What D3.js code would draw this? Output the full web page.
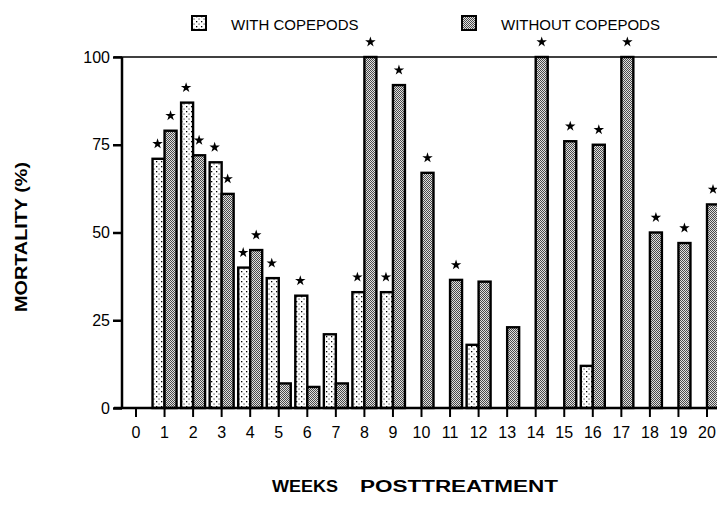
<!DOCTYPE html>
<html>
<head>
<meta charset="utf-8">
<script src="https://cdn.jsdelivr.net/npm/d3@7/dist/d3.min.js"></script>
<style>
  html, body { margin: 0; padding: 0; background: #fff; }
  svg { display: block; }
  text { font-family: "Liberation Sans", Arial, Helvetica, sans-serif; fill: #000; }
</style>
</head>
<body>
<svg id="chart" width="717" height="519"></svg>
<script>
// ---- data ----
const weeks = [0,1,2,3,4,5,6,7,8,9,10,11,12,13,14,15,16,17,18,19,20];
const withCopepods    = [null,71,87,70,40,37,32,21,33,33,null,null,18,null,null,null,12,null,null,null,null];
const withoutCopepods = [null,79,72,61,45,7,6,7,100,92,67,36.5,36,23,100,76,75,100,50,47,58];
const withStars    = [1,2,3,4,5,6,8,9];
const withoutStars = [1,2,3,4,8,9,10,11,14,15,16,17,18,19,20];
const yTicks = [0,25,50,75,100];
const seriesNames = ["WITH COPEPODS","WITHOUT COPEPODS"];
const xTitle = ["WEEKS","POSTTREATMENT"];
const yTitle = "MORTALITY (%)";

// ---- layout ----
const svg = d3.select("#chart");
const y0 = 408, y100 = 57;
const step = 28.55, firstTick = 136;

const x = d3.scalePoint()
  .domain(weeks)
  .range([firstTick, firstTick + step*(weeks.length - 1)]);
const xc = w => x(w);
const y = d3.scaleLinear().domain([0,100]).range([y0, y100]);
const barW = 12;

// ---- patterns ----
const defs = svg.append("defs");
const pDot = defs.append("pattern").attr("id","dots").attr("patternUnits","userSpaceOnUse")
  .attr("width",5).attr("height",5);
pDot.append("rect").attr("width",5).attr("height",5).attr("fill","#fff");
pDot.append("rect").attr("x",1).attr("y",1).attr("width",1.3).attr("height",1.3).attr("fill","#000");
pDot.append("rect").attr("x",3.5).attr("y",3.5).attr("width",1.1).attr("height",1.1).attr("fill","#333");

const pChk = defs.append("pattern").attr("id","checker").attr("patternUnits","userSpaceOnUse")
  .attr("width",2).attr("height",2);
pChk.append("rect").attr("width",2).attr("height",2).attr("fill","#e0e0e0");
pChk.append("rect").attr("x",0).attr("y",0).attr("width",1).attr("height",1).attr("fill","#4a4a4a");
pChk.append("rect").attr("x",1).attr("y",1).attr("width",1).attr("height",1).attr("fill","#4a4a4a");

// ---- top line (100 %) ----
svg.append("line").attr("x1",114).attr("x2",717).attr("y1",y(100)).attr("y2",y(100))
  .attr("stroke","#000").attr("stroke-width",1.6);

// ---- bars ----
const withData = weeks.map((w,i)=>({w, v: withCopepods[i]})).filter(d=>d.v!==null);
const withoutData = weeks.map((w,i)=>({w, v: withoutCopepods[i]})).filter(d=>d.v!==null);

svg.append("g").selectAll("rect").data(withData).join("rect")
  .attr("x", d => xc(d.w) - barW)
  .attr("y", d => y(d.v))
  .attr("width", barW)
  .attr("height", d => y0 - y(d.v))
  .attr("fill","url(#dots)").attr("stroke","#000").attr("stroke-width",2.4);

svg.append("g").selectAll("rect").data(withoutData).join("rect")
  .attr("x", d => xc(d.w))
  .attr("y", d => y(d.v))
  .attr("width", barW)
  .attr("height", d => y0 - y(d.v))
  .attr("fill","url(#checker)").attr("stroke","#000").attr("stroke-width",2.4);

// ---- stars ----
const star = d3.symbol().type(d3.symbolStar).size(34);
const starG = svg.append("g");
withStars.forEach(w => {
  const v = withCopepods[weeks.indexOf(w)];
  starG.append("path").attr("d", star)
    .attr("transform", `translate(${xc(w) - barW/2 - 1},${y(v) - 15})`).attr("fill","#000");
});
withoutStars.forEach(w => {
  const v = withoutCopepods[weeks.indexOf(w)];
  starG.append("path").attr("d", star)
    .attr("transform", `translate(${xc(w) + barW/2},${y(v) - 15})`).attr("fill","#000");
});

// ---- axes ----
const yAxis = d3.axisLeft(y).tickValues(yTicks).tickSize(9).tickPadding(3);
const gy = svg.append("g").attr("transform","translate(122,0)").call(yAxis);
gy.select(".domain").attr("stroke","#000").attr("stroke-width",2.5).attr("d",`M0,${y(100)}V${y0}`);
gy.selectAll(".tick line").attr("stroke","#000").attr("stroke-width",2.5);
gy.selectAll(".tick text").attr("font-size",16).attr("font-family","Liberation Sans, Arial, sans-serif");

const gx = svg.append("g").attr("transform",`translate(0,${y0})`);
gx.append("line").attr("x1",114).attr("x2",717).attr("y1",0).attr("y2",0)
  .attr("stroke","#000").attr("stroke-width",2.5);
gx.selectAll("line.tk").data(weeks).join("line").attr("class","tk")
  .attr("x1", d => xc(d)).attr("x2", d => xc(d)).attr("y1",0).attr("y2",9)
  .attr("stroke","#000").attr("stroke-width",2);
gx.selectAll("text").data(weeks).join("text")
  .attr("x", d => xc(d)).attr("y", 30).attr("text-anchor","middle")
  .attr("font-size",16).text(d => d);

// ---- axis titles ----
svg.append("text").attr("transform","translate(27,237) rotate(-90)")
  .attr("text-anchor","middle").attr("font-weight","bold").attr("font-size",17)
  .attr("textLength",150).attr("lengthAdjust","spacingAndGlyphs").text(yTitle);
svg.append("text").attr("x",272).attr("y",492).attr("font-weight","bold").attr("font-size",16)
  .attr("textLength",66).attr("lengthAdjust","spacingAndGlyphs").text(xTitle[0]);
svg.append("text").attr("x",360).attr("y",492).attr("font-weight","bold").attr("font-size",16)
  .attr("textLength",198).attr("lengthAdjust","spacingAndGlyphs").text(xTitle[1]);

// ---- legend ----
const legend = [
  {name: seriesNames[0], fill: "url(#dots)", sx: 192, tx: 231},
  {name: seriesNames[1], fill: "url(#checker)", sx: 462, tx: 501}
];
const lg = svg.append("g");
legend.forEach(l => {
  lg.append("rect").attr("x", l.sx).attr("y",16).attr("width",14).attr("height",14)
    .attr("fill", l.fill).attr("stroke","#000").attr("stroke-width",2);
  lg.append("text").attr("x", l.tx).attr("y",30).attr("font-size",15).text(l.name);
});
</script>
</body>
</html>
